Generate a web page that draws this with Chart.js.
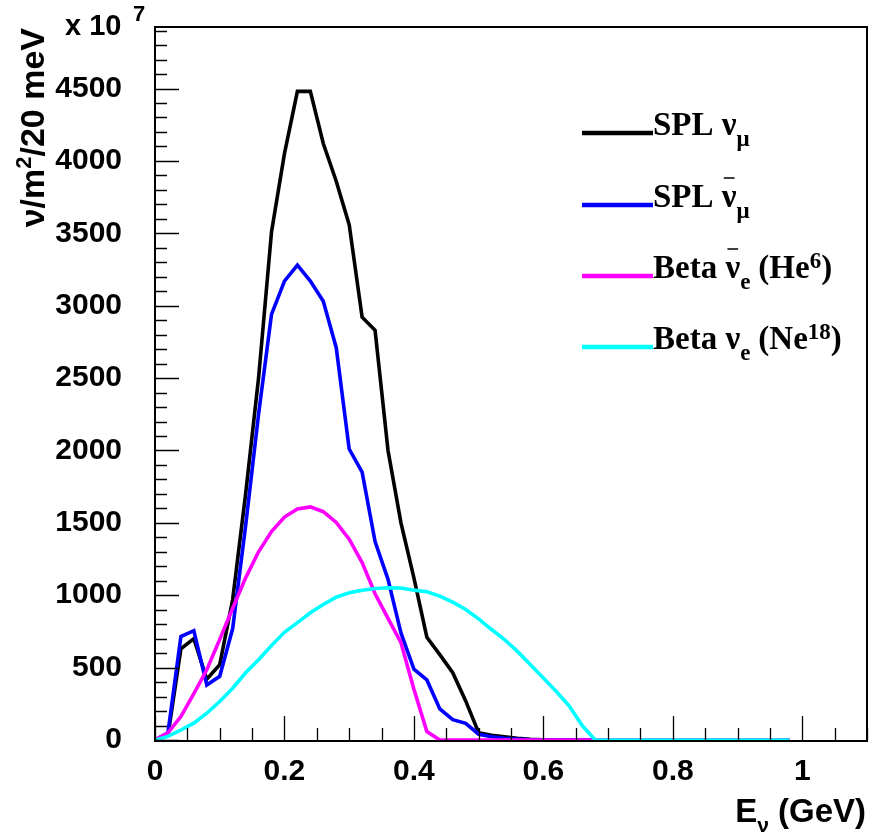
<!DOCTYPE html>
<html>
<head>
<meta charset="utf-8">
<script src="https://cdn.jsdelivr.net/npm/chart.js@4/dist/chart.umd.min.js"></script>
<style>
  html, body { margin: 0; padding: 0; background: #ffffff; }
  #wrap { width: 869px; height: 839px; }
</style>
</head>
<body>
<div id="wrap"><canvas id="c" width="869" height="839"></canvas></div>
<script>
// ---- data ----
const energy = [0.00,0.02,0.04,0.06,0.08,0.10,0.12,0.14,0.16,0.18,
                0.20,0.22,0.24,0.26,0.28,0.30,0.32,0.34,0.36,0.38,
                0.40,0.42,0.44,0.46,0.48,0.50,0.52,0.54,0.56,0.58,
                0.60,0.62,0.64,0.66,0.68,0.70,0.72,0.74,0.76,0.78,
                0.80,0.82,0.84,0.86,0.88,0.90,0.92,0.94,0.96,0.98];

const splNuMu = [0,30,630,700,420,520,970,1700,2500,3510,
                 4050,4480,4480,4120,3860,3560,2920,2830,2000,1500,
                 1120,710,590,465,270,50,32,22,12,5,
                 2,0,0,0,0,0,0,0,0,0,
                 0,0,0,0,0,0,0,0,0,0];

const splAntiNuMu = [0,50,715,755,380,440,770,1480,2250,2940,
                     3170,3280,3170,3030,2710,2010,1850,1370,1110,740,
                     490,415,215,140,115,40,22,12,6,2,
                     0,0,0,0,0,0,0,0,0,0,
                     0,0,0,0,0,0,0,0,0,0];

const betaAntiNuE = [0,50,162,320,485,695,910,1120,1300,1440,
                     1540,1595,1610,1577,1503,1387,1225,1010,840,672,
                     350,58,0,0,0,0,0,0,0,0,
                     0,0,0,0,0,0,0,0,0,0,
                     0,0,0,0,0,0,0,0,0,0];

const betaNuE = [0,25,69,116,185,266,358,464,555,652,
                 744,811,879,936,987,1017,1035,1047,1052,1050,
                 1035,1024,994,952,901,837,763,693,612,520,
                 428,335,235,100,0,0,0,0,0,0,
                 0,0,0,0,0,0,0,0,0,0];

const xTickLabels = [0, 0.2, 0.4, 0.6, 0.8, 1];
const yTickLabels = [0, 500, 1000, 1500, 2000, 2500, 3000, 3500, 4000, 4500];
const xMinorStep = 0.05;
const yMinorStep = 100;

const seriesNames = ['SPL ν_μ', 'SPL anti-ν_μ', 'Beta anti-ν_e (He6)', 'Beta ν_e (Ne18)'];
const seriesColors = ['#000000', '#0000ff', '#ff00ff', '#00ffff'];

// ---- helpers ----
const SANS = '"Liberation Sans", Arial, Helvetica, sans-serif';
const SERIF = '"Liberation Serif", "Times New Roman", Times, serif';

function pts(arr) { return energy.map((e, i) => ({ x: e, y: arr[i] })); }

function richWidth(ctx, segs, family) {
  let w = 0;
  for (const s of segs) { ctx.font = 'bold ' + s.size + 'px ' + family; w += ctx.measureText(s.t).width + (s.gap || 0); }
  return w;
}
function drawRich(ctx, x, y, segs, family) {
  let cx = x;
  for (const s of segs) {
    ctx.font = 'bold ' + s.size + 'px ' + family;
    const w = ctx.measureText(s.t).width;
    ctx.fillText(s.t, cx, y + (s.dy || 0));
    if (s.bar) {
      ctx.save();
      ctx.lineWidth = 1.5;
      ctx.strokeStyle = ctx.fillStyle;
      ctx.beginPath();
      ctx.moveTo(cx + s.bar[0], y + s.bar[2]);
      ctx.lineTo(cx + w - s.bar[1], y + s.bar[2]);
      ctx.stroke();
      ctx.restore();
    }
    cx += w + (s.gap || 0);
  }
  return cx;
}

const framePlugin = {
  id: 'frame',
  afterDatasetsDraw(chart) {
    const ctx = chart.ctx;
    const xs = chart.scales.x, ys = chart.scales.y;
    const a = chart.chartArea;
    ctx.save();
    ctx.strokeStyle = '#000';
    ctx.lineWidth = 1.3;
    ctx.beginPath();
    for (let v = 0; v <= ys.max + 1e-9; v += yMinorStep) {
      const p = Math.round(ys.getPixelForValue(v)) + 0.5;
      const len = (Math.round(v) % 500 === 0) ? 24 : 12;
      ctx.moveTo(a.left, p); ctx.lineTo(a.left + len, p);
    }
    for (let k = 0; k * xMinorStep <= xs.max + 1e-9; k++) {
      const v = k * xMinorStep;
      const p = Math.round(xs.getPixelForValue(v)) + 0.5;
      const len = (k % 4 === 0) ? 24 : 12;
      ctx.moveTo(p, a.bottom); ctx.lineTo(p, a.bottom - len);
    }
    ctx.stroke();
    ctx.lineWidth = 2;
    ctx.beginPath();
    ctx.moveTo(a.left, a.top); ctx.lineTo(a.right, a.top);
    ctx.lineTo(a.right, a.bottom + 1);
    ctx.lineTo(a.left, a.bottom + 1);
    ctx.closePath();
    ctx.stroke();
    ctx.restore();
  },
  afterDraw(chart) {
    const ctx = chart.ctx;
    ctx.save();
    ctx.fillStyle = '#000';
    ctx.textBaseline = 'alphabetic';
    ctx.textAlign = 'left';

    // exponent label
    drawRich(ctx, 65, 35, [{ t: 'x 10', size: 29 }], SANS);
    drawRich(ctx, 133, 21, [{ t: '7', size: 22 }], SANS);

    // x title
    const xt = [
      { t: 'E', size: 33 },
      { t: 'ν', size: 21, dy: 10 },
      { t: ' (GeV)', size: 33 }
    ];
    const xw = richWidth(ctx, xt, SANS);
    drawRich(ctx, 866 - xw, 822, xt, SANS);

    // y title (rotated)
    const yt = [
      { t: 'ν/m', size: 34 },
      { t: '2', size: 22, dy: -13 },
      { t: '/20 meV', size: 34 }
    ];
    const yw = richWidth(ctx, yt, SANS);
    ctx.save();
    ctx.translate(44, 28);
    ctx.rotate(-Math.PI / 2);
    drawRich(ctx, -yw, 0, yt, SANS);
    ctx.restore();

    // legend
    const lx0 = 582, lx1 = 653;
    const F = 33, f = 23;
    const rows = [
      { y: 133, color: seriesColors[0], segs: [
        { t: 'SPL ', size: F }, { t: 'ν', size: F }, { t: 'μ', size: f, dy: 11 } ] },
      { y: 205, color: seriesColors[1], segs: [
        { t: 'SPL ', size: F }, { t: 'ν', size: F, bar: [2, 2, -29] }, { t: 'μ', size: f, dy: 11 } ] },
      { y: 276, color: seriesColors[2], segs: [
        { t: 'Beta ', size: F }, { t: 'ν', size: F, bar: [2, 2, -29] }, { t: 'e', size: f, dy: 11, gap: 8 },
        { t: '(He', size: F }, { t: '6', size: f, dy: -10 }, { t: ')', size: F } ] },
      { y: 347, color: seriesColors[3], segs: [
        { t: 'Beta ', size: F }, { t: 'ν', size: F }, { t: 'e', size: f, dy: 11, gap: 8 },
        { t: '(Ne', size: F }, { t: '18', size: f, dy: -10 }, { t: ')', size: F } ] }
    ];
    for (const r of rows) {
      ctx.save();
      ctx.strokeStyle = r.color;
      ctx.lineWidth = 4.5;
      ctx.beginPath();
      ctx.moveTo(lx0, r.y); ctx.lineTo(lx1, r.y);
      ctx.stroke();
      ctx.restore();
      ctx.fillStyle = '#000';
      drawRich(ctx, lx1, r.y + 2, r.segs, SERIF);
    }
    ctx.restore();
  }
};

const mkSet = (label, arr, color, order) => ({
  label, data: pts(arr), borderColor: color, backgroundColor: color,
  borderWidth: 3.6, pointRadius: 0, tension: 0, fill: false, order,
  borderJoinStyle: 'miter'
});

new Chart(document.getElementById('c'), {
  type: 'line',
  data: {
    datasets: [
      mkSet(seriesNames[0], splNuMu, seriesColors[0], 4),
      mkSet(seriesNames[1], splAntiNuMu, seriesColors[1], 3),
      mkSet(seriesNames[2], betaAntiNuE, seriesColors[2], 2),
      mkSet(seriesNames[3], betaNuE, seriesColors[3], 1)
    ]
  },
  options: {
    responsive: false,
    animation: false,
    layout: { padding: { top: 27, right: 2, left: 0, bottom: 0 } },
    plugins: { legend: { display: false }, tooltip: { enabled: false } },
    scales: {
      x: {
        type: 'linear', min: 0, max: 1.1,
        afterFit: s => { s.height = 99; s.paddingLeft = 0; s.paddingRight = 0; },
        afterBuildTicks: s => { s.ticks = xTickLabels.map(v => ({ value: v })); },
        grid: { display: false, drawTicks: false },
        border: { display: false },
        ticks: {
          color: '#000', padding: 14, maxRotation: 0, autoSkip: false,
          font: { family: SANS, size: 30, weight: 'bold' },
          callback: v => String(Math.round(v * 10) / 10)
        }
      },
      y: {
        type: 'linear', min: 0, max: 4925,
        afterFit: s => { s.width = 155; s.paddingTop = 0; s.paddingBottom = 0; },
        afterBuildTicks: s => { s.ticks = yTickLabels.map(v => ({ value: v })); },
        grid: { display: false, drawTicks: false },
        border: { display: false },
        ticks: {
          color: '#000', padding: 33, autoSkip: false,
          font: { family: SANS, size: 30, weight: 'bold' },
          callback: v => String(Math.round(v))
        }
      }
    }
  },
  plugins: [framePlugin]
});
</script>
</body>
</html>
